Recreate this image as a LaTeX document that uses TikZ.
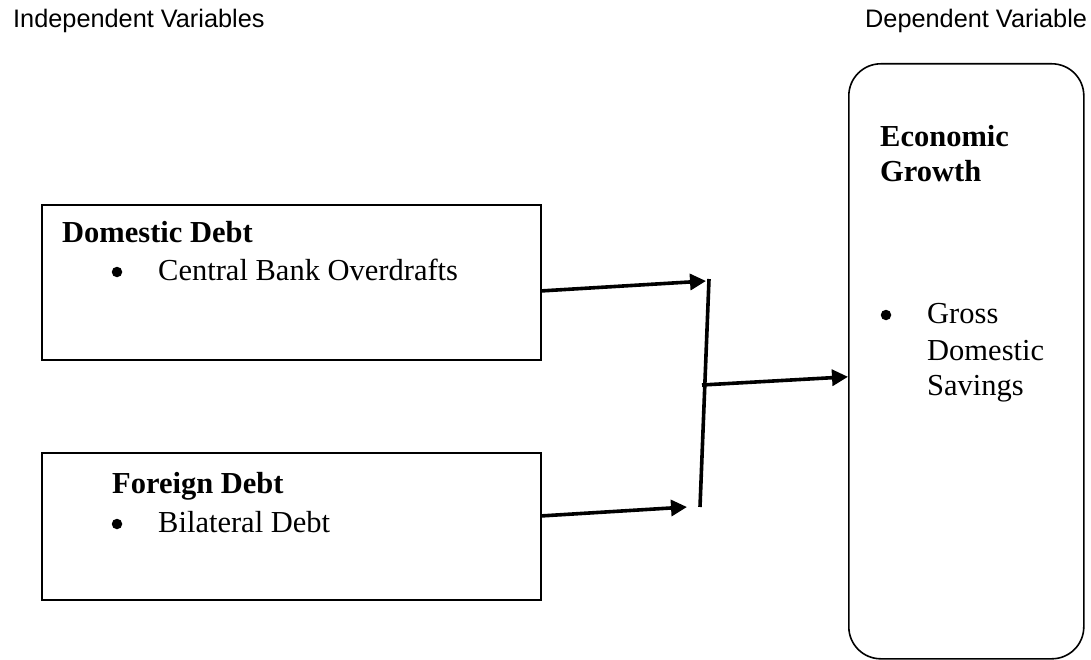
\documentclass[tikz,border=0pt]{standalone}
\usepackage{fontspec}
\setmainfont{Liberation Serif}
\newfontfamily\headfont{Liberation Sans}
\usetikzlibrary{arrows.meta}

\tikzset{
    varbox/.style={draw, line width=1.8pt, minimum width=499pt, anchor=north west, inner sep=0pt},
    bodytext/.style={anchor=base west, inner sep=0pt, font=\fontsize{30.5}{36}\selectfont},
    headtext/.style={anchor=base west, inner sep=0pt, font=\headfont\fontsize{25.3}{30}\selectfont},
    dot/.style={circle, fill, inner sep=0pt, minimum size=10.5pt},
    flow/.style={line width=3.6pt, -{Triangle[length=16pt,width=16pt]}},
    joinbar/.style={line width=3.6pt}
}

\begin{document}
\begin{tikzpicture}[x=1pt, y=-1pt]
    \useasboundingbox (0,0) rectangle (1091,660);

    % headings
    \node[headtext] (indep) at (13,28) {Independent Variables};
    \node[headtext] (dep) at (865,28) {Dependent Variable};

    % the two boxes on the left
    \node[varbox, minimum height=155pt] (dom) at (41,204) {};
    \node[varbox, minimum height=147pt] (for) at (41,452) {};

    \node[bodytext] (domtitle) at (62,243) {\textbf{Domestic Debt}};
    \node[dot] (dombul) at (117,272) {};
    \node[bodytext] (domitem) at (158,280) {Central Bank Overdrafts};

    \node[bodytext] (fortitle) at (112,493) {\textbf{Foreign Debt}};
    \node[dot] (forbul) at (117,524) {};
    \node[bodytext] (foritem) at (158,532) {Bilateral Debt};

    % box on the right
    \node[draw, line width=1.6pt, rounded corners=32pt, minimum width=235pt,
          minimum height=595pt, anchor=north west, inner sep=0pt] (growth) at (848,63) {};

    \node[bodytext] (econ) at (880,147) {\textbf{Economic}};
    \node[bodytext] (grow) at (880,182) {\textbf{Growth}};
    \node[dot] (grossbul) at (886,315) {};
    \node[bodytext] (gross) at (927,323) {Gross};
    \node[bodytext] (domsav) at (927,360) {Domestic};
    \node[bodytext] (sav) at (927,395) {Savings};

    % arrows
    \coordinate (bartop) at (709,279);
    \coordinate (barmid) at (702,385);
    \coordinate (barbot) at (700,507);
    \coordinate (toptip) at (706,281);
    \coordinate (bottip) at (687,507);

    \draw[joinbar] (bartop) -- (barbot);
    \draw[flow] ([yshift=-8.5pt]dom.east) -- (toptip);
    \draw[flow] ([yshift=10.5pt]for.east) -- (bottip);
    \draw[flow] (barmid) -- ([yshift=-15.5pt]growth.west);
\end{tikzpicture}
\end{document}
